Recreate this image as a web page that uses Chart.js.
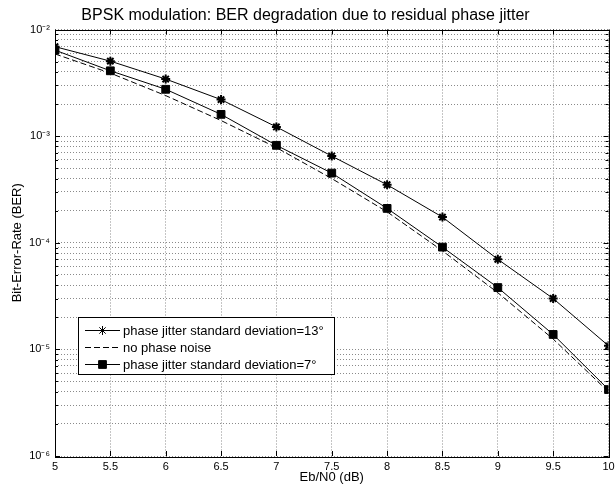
<!DOCTYPE html>
<html>
<head>
<meta charset="utf-8">
<script src="https://cdn.jsdelivr.net/npm/chart.js@4.4.0/dist/chart.umd.min.js"></script>
<style>
html, body { margin: 0; padding: 0; background: #fff; }
</style>
</head>
<body>
<canvas id="berChart" width="615" height="493"></canvas>
<script>
// Eb/N0 points (dB)
const ebn0 = [5, 5.5, 6, 6.5, 7, 7.5, 8, 8.5, 9, 9.5, 10];

// BER
const berJitter13 = [6.9e-3, 5.05e-3, 3.43e-3, 2.2e-3, 1.22e-3, 6.5e-4, 3.5e-4, 1.74e-4, 7.0e-5, 3.0e-5, 1.08e-5];
const berNoNoise  = [5.9e-3, 3.9e-3, 2.4e-3, 1.4e-3, 7.8e-4, 4.0e-4, 1.95e-4, 8.4e-5, 3.4e-5, 1.25e-5, 4.0e-6];
const berJitter7  = [6.4e-3, 4.1e-3, 2.75e-3, 1.6e-3, 8.2e-4, 4.5e-4, 2.1e-4, 9.1e-5, 3.8e-5, 1.38e-5, 4.2e-6];

const seriesNames = [
    'phase jitter standard deviation=13\u00b0',
    'no phase noise',
    'phase jitter standard deviation=7\u00b0'
];

// axis ticks
const xTicks = [5, 5.5, 6, 6.5, 7, 7.5, 8, 8.5, 9, 9.5, 10];
const yDecades = [-6, -5, -4, -3, -2];
const yTickLabels = ['10\u207b\u2076', '10\u207b\u2075', '10\u207b\u2074', '10\u207b\u00b3', '10\u207b\u00b2'];

const FONT = 'Liberation Sans, Arial, Helvetica, sans-serif';

function toPoints(ys) {
    return ebn0.map((x, i) => ({ x: x, y: ys[i] }));
}

function isDecade(v) {
    const l = Math.log10(v);
    return Math.abs(l - Math.round(l)) < 1e-9;
}

// y ticks: 1..9 x 10^n for each decade, plus the top one
const yTicks = [];
yDecades.forEach((d, i) => {
    if (i === yDecades.length - 1) {
        yTicks.push(Math.pow(10, d));
        return;
    }
    for (let m = 1; m <= 9; m++) yTicks.push(m * Math.pow(10, d));
});

const styles = [
    { pointStyle: 'star', pointRadius: 4.5, borderWidth: 1, pointBorderWidth: 2, borderDash: [] },
    { pointStyle: false, pointRadius: 0, borderWidth: 1, pointBorderWidth: 0, borderDash: [6, 3] },
    { pointStyle: 'rect', pointRadius: 5.5, borderWidth: 1, pointBorderWidth: 1, borderDash: [] }
];
const series = [berJitter13, berNoNoise, berJitter7];

// box, inside ticks and the legend, MATLAB style
const boxPlugin = {
    id: 'boxPlugin',
    afterDraw(chart) {
        const ctx = chart.ctx;
        const a = chart.chartArea;
        const xs = chart.scales.x;
        const ys = chart.scales.y;
        ctx.save();
        ctx.strokeStyle = '#000';
        ctx.lineWidth = 1;
        ctx.strokeRect(Math.round(a.left) + 0.5, Math.round(a.top) + 0.5,
            Math.round(a.right - a.left), Math.round(a.bottom - a.top));

        ctx.beginPath();
        xTicks.forEach(v => {
            const px = Math.round(xs.getPixelForValue(v)) + 0.5;
            ctx.moveTo(px, a.bottom); ctx.lineTo(px, a.bottom - 5);
            ctx.moveTo(px, a.top); ctx.lineTo(px, a.top + 5);
        });
        yTicks.forEach(v => {
            const py = Math.round(ys.getPixelForValue(v)) + 0.5;
            const len = isDecade(v) ? 5 : 3;
            ctx.moveTo(a.left, py); ctx.lineTo(a.left + len, py);
            ctx.moveTo(a.right, py); ctx.lineTo(a.right - len, py);
        });
        ctx.stroke();

        // legend
        const lx = 78.5, ly = 317.5, lw = 256, lh = 57;
        ctx.fillStyle = '#fff';
        ctx.fillRect(lx, ly, lw, lh);
        ctx.strokeRect(lx, ly, lw, lh);
        const rows = [330, 347, 364];
        ctx.font = '13px ' + FONT;
        ctx.textBaseline = 'middle';
        ctx.textAlign = 'left';
        seriesNames.forEach((name, i) => {
            const st = styles[i];
            ctx.save();
            ctx.strokeStyle = '#000';
            ctx.lineWidth = 1;
            ctx.setLineDash(st.borderDash);
            ctx.beginPath();
            ctx.moveTo(85, rows[i] + 0.5);
            ctx.lineTo(120, rows[i] + 0.5);
            ctx.stroke();
            ctx.restore();
            if (st.pointStyle) {
                ctx.fillStyle = '#000';
                ctx.strokeStyle = '#000';
                Chart.helpers.drawPoint(ctx, {
                    pointStyle: st.pointStyle,
                    radius: st.pointRadius,
                    borderWidth: st.pointBorderWidth,
                    rotation: 0
                }, 102.5, rows[i] + 0.5);
            }
            ctx.fillStyle = '#000';
            ctx.fillText(name, 123, rows[i] + 1);
        });
        ctx.restore();
    }
};

const ctx = document.getElementById('berChart').getContext('2d');

const chart = new Chart(ctx, {
    type: 'line',
    data: {
        datasets: series.map((ys, i) => ({
            label: seriesNames[i],
            data: toPoints(ys),
            borderColor: '#000',
            backgroundColor: '#000',
            borderWidth: styles[i].borderWidth,
            borderDash: styles[i].borderDash,
            pointStyle: styles[i].pointStyle,
            pointRadius: styles[i].pointRadius,
            pointBorderWidth: styles[i].pointBorderWidth,
            pointBackgroundColor: '#000',
            pointBorderColor: '#000',
            tension: 0,
            fill: false
        }))
    },
    options: {
        responsive: false,
        animation: false,
        layout: {
            padding: { left: 0, right: 4, top: 0, bottom: 0 }
        },
        plugins: {
            legend: { display: false },
            tooltip: { enabled: false },
            title: {
                display: true,
                text: 'BPSK modulation: BER degradation due to residual phase jitter',
                color: '#000',
                font: { family: FONT, size: 16, weight: 'normal' },
                padding: { top: 5.5, bottom: 4.8 }
            }
        },
        scales: {
            x: {
                type: 'linear',
                min: 5,
                max: 10,
                afterBuildTicks: function(scale) {
                    scale.ticks = xTicks.map(v => ({ value: v }));
                },
                afterFit: function(scale) {
                    scale.height = 37;
                    scale.paddingLeft = 0;
                    scale.paddingRight = 0;
                },
                ticks: {
                    color: '#000',
                    padding: 4,
                    autoSkip: false,
                    maxRotation: 0,
                    font: { family: FONT, size: 11 },
                    callback: function(value) {
                        return String(value);
                    }
                },
                grid: {
                    color: '#8a8a8a',
                    lineWidth: 1,
                    drawTicks: false
                },
                border: { display: false, dash: [1, 2] },
                title: {
                    display: true,
                    text: 'Eb/N0 (dB)',
                    color: '#000',
                    font: { family: FONT, size: 13 },
                    padding: { top: 0, bottom: 8 }
                }
            },
            y: {
                type: 'logarithmic',
                min: 1e-6,
                max: 1e-2,
                afterBuildTicks: function(scale) {
                    scale.ticks = yTicks.map(v => ({ value: v }));
                },
                afterFit: function(scale) {
                    scale.width = 55;
                    scale.paddingTop = 0;
                    scale.paddingBottom = 0;
                },
                ticks: {
                    color: '#000',
                    padding: 5,
                    autoSkip: false,
                    font: { family: FONT, size: 11 },
                    callback: function(value) {
                        if (!isDecade(value)) return '';
                        const idx = yDecades.indexOf(Math.round(Math.log10(value)));
                        return yTickLabels[idx];
                    }
                },
                grid: {
                    color: '#8a8a8a',
                    lineWidth: 1,
                    drawTicks: false
                },
                border: { display: false, dash: [1, 2] },
                title: {
                    display: true,
                    text: 'Bit-Error-Rate (BER)',
                    color: '#000',
                    font: { family: FONT, size: 13 },
                    padding: { top: 10, bottom: 0 }
                }
            }
        }
    },
    plugins: [boxPlugin]
});
</script>
</body>
</html>
